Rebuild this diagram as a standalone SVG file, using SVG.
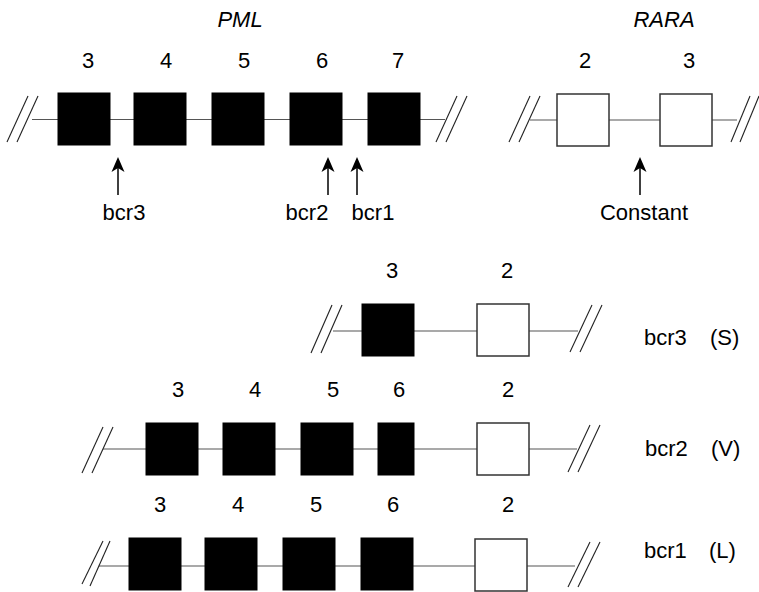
<svg xmlns="http://www.w3.org/2000/svg" width="759" height="592" viewBox="0 0 759 592">
<defs>
<style>
.t{font-family:"Liberation Sans",Arial,sans-serif;font-size:22px;fill:#000}
.ti{font-family:"Liberation Sans",Arial,sans-serif;font-size:22px;font-style:italic;fill:#000}
.ln{stroke:#555;stroke-width:1.2;fill:none}
.sl{stroke:#222;stroke-width:1.1;fill:none}
.bk{fill:#000;stroke:#000;stroke-width:1}
.wh{fill:#fff;stroke:#333;stroke-width:1.5}
.ar{stroke:#000;stroke-width:1.5;fill:none}
</style>
<marker id="ah" markerUnits="userSpaceOnUse" markerWidth="18" markerHeight="16" refX="-8" refY="0" orient="auto" viewBox="-16 -8 18 16">
<path d="M0,0 L-15,-6.5 L-11,0 L-15,6.5 Z" fill="#000"/>
</marker>
</defs>
<g id="connectors">
<line class="ln" x1="32" y1="119.5" x2="445" y2="119.5"/>
<line class="sl" x1="7" y1="142" x2="28" y2="96"/>
<line class="sl" x1="17" y1="142" x2="38" y2="96"/>
<line class="sl" x1="436" y1="142" x2="457" y2="96"/>
<line class="sl" x1="446" y1="142" x2="467" y2="96"/>
<line class="ln" x1="530" y1="120" x2="737" y2="120"/>
<line class="sl" x1="509" y1="142" x2="530" y2="96"/>
<line class="sl" x1="519" y1="142" x2="540" y2="96"/>
<line class="sl" x1="731" y1="142" x2="750" y2="96"/>
<line class="sl" x1="740" y1="142" x2="759" y2="96"/>
<line class="ar" x1="118" y1="195" x2="118" y2="165" marker-end="url(#ah)"/>
<line class="ar" x1="328" y1="195" x2="328" y2="165" marker-end="url(#ah)"/>
<line class="ar" x1="357" y1="195" x2="357" y2="165" marker-end="url(#ah)"/>
<line class="ar" x1="640" y1="195" x2="640" y2="165" marker-end="url(#ah)"/>
<line class="ln" x1="333" y1="331" x2="578" y2="331"/>
<line class="sl" x1="311" y1="353" x2="332" y2="305"/>
<line class="sl" x1="321" y1="353" x2="342" y2="305"/>
<line class="sl" x1="570" y1="352" x2="592" y2="305"/>
<line class="sl" x1="580" y1="352" x2="602" y2="305"/>
<line class="ln" x1="103" y1="449" x2="577" y2="449"/>
<line class="sl" x1="82" y1="473" x2="103" y2="427"/>
<line class="sl" x1="92" y1="473" x2="113" y2="427"/>
<line class="sl" x1="568" y1="472" x2="590" y2="425"/>
<line class="sl" x1="578" y1="472" x2="600" y2="425"/>
<line class="ln" x1="99" y1="566" x2="575" y2="566"/>
<line class="sl" x1="82" y1="584" x2="103" y2="541"/>
<line class="sl" x1="90" y1="586" x2="110" y2="541"/>
<line class="sl" x1="568" y1="587" x2="590" y2="542"/>
<line class="sl" x1="578" y1="587" x2="600" y2="542"/>
</g>
<g id="labels">
<text class="ti" x="240" y="27" text-anchor="middle">PML</text>
<text class="ti" x="664" y="27" text-anchor="middle">RARA</text>
<text class="t" x="124" y="220" text-anchor="middle">bcr3</text>
<text class="t" x="307" y="220" text-anchor="middle">bcr2</text>
<text class="t" x="373" y="220" text-anchor="middle">bcr1</text>
<text class="t" x="644" y="220" text-anchor="middle">Constant</text>
<text class="t" y="345"><tspan x="644">bcr3</tspan><tspan x="710">(S)</tspan></text>
<text class="t" y="456"><tspan x="645">bcr2</tspan><tspan x="711">(V)</tspan></text>
<text class="t" y="558"><tspan x="644">bcr1</tspan><tspan x="709">(L)</tspan></text>
</g>
<g id="pml-top">
<rect class="bk" x="58" y="93" width="52" height="52"/>
<text class="t" x="88" y="68" text-anchor="middle">3</text>
<rect class="bk" x="134" y="93" width="52" height="52"/>
<text class="t" x="166" y="68" text-anchor="middle">4</text>
<rect class="bk" x="212" y="93" width="52" height="52"/>
<text class="t" x="244" y="68" text-anchor="middle">5</text>
<rect class="bk" x="290" y="93" width="52" height="52"/>
<text class="t" x="322" y="68" text-anchor="middle">6</text>
<rect class="bk" x="368" y="93" width="52" height="52"/>
<text class="t" x="398" y="68" text-anchor="middle">7</text>
</g>
<g id="rara-top">
<rect class="wh" x="557" y="94" width="52" height="52"/>
<text class="t" x="585" y="68" text-anchor="middle">2</text>
<rect class="wh" x="660" y="94" width="52" height="52"/>
<text class="t" x="689" y="68" text-anchor="middle">3</text>
</g>
<g id="row-s">
<rect class="bk" x="362" y="304" width="52" height="52"/>
<text class="t" x="392" y="278" text-anchor="middle">3</text>
<rect class="wh" x="477" y="304" width="52" height="52"/>
<text class="t" x="507" y="278" text-anchor="middle">2</text>
</g>
<g id="row-v">
<rect class="bk" x="146" y="423" width="52" height="52"/>
<text class="t" x="178" y="397" text-anchor="middle">3</text>
<rect class="bk" x="223" y="423" width="52" height="52"/>
<text class="t" x="255" y="397" text-anchor="middle">4</text>
<rect class="bk" x="301" y="423" width="52" height="52"/>
<text class="t" x="333" y="397" text-anchor="middle">5</text>
<rect class="bk" x="378" y="423" width="36" height="52"/>
<text class="t" x="399" y="397" text-anchor="middle">6</text>
<rect class="wh" x="477" y="423" width="52" height="52"/>
<text class="t" x="508" y="397" text-anchor="middle">2</text>
</g>
<g id="row-l">
<rect class="bk" x="129" y="538" width="52" height="52"/>
<text class="t" x="160" y="512" text-anchor="middle">3</text>
<rect class="bk" x="205" y="538" width="52" height="52"/>
<text class="t" x="238" y="512" text-anchor="middle">4</text>
<rect class="bk" x="283" y="538" width="52" height="52"/>
<text class="t" x="316" y="512" text-anchor="middle">5</text>
<rect class="bk" x="361" y="538" width="52" height="52"/>
<text class="t" x="393" y="512" text-anchor="middle">6</text>
<rect class="wh" x="475" y="539" width="52" height="52"/>
<text class="t" x="508" y="512" text-anchor="middle">2</text>
</g>
</svg>
